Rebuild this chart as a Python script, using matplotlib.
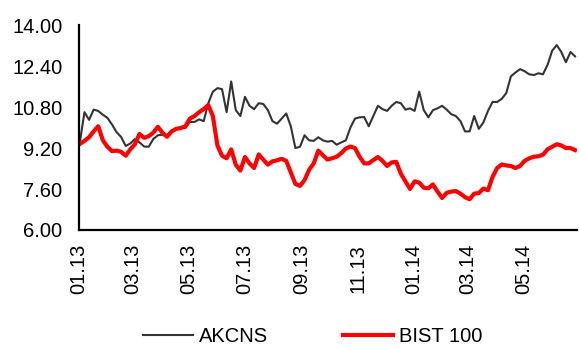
import numpy as np
import pandas as pd
import matplotlib
matplotlib.use("Agg")
import matplotlib.pyplot as plt
import matplotlib.dates as mdates
from matplotlib.ticker import FormatStrFormatter

plt.rcParams['font.family'] = ['Liberation Sans', 'DejaVu Sans']

# price series sampled every 5 calendar days from early Jan 2013
dates = pd.date_range('2013-01-02', periods=109, freq='5D')

akcns = [
    9.44, 10.60, 10.30, 10.70, 10.65, 10.50, 10.38, 10.12, 9.82, 9.63,
    9.28, 9.38, 9.55, 9.42, 9.26, 9.25, 9.55, 9.70, 9.72, 9.66,
    9.84, 9.93, 10.03, 9.98, 10.22, 10.22, 10.32, 10.25, 10.95, 11.40,
    11.54, 11.50, 10.60, 11.80, 10.68, 10.45, 11.20, 10.85, 10.72, 10.95,
    10.92, 10.68, 10.25, 10.15, 10.35, 10.55, 10.05, 9.20, 9.25, 9.70,
    9.50, 9.48, 9.62, 9.50, 9.45, 9.48, 9.33, 9.42, 9.50, 10.00,
    10.35, 10.40, 10.41, 10.05, 10.45, 10.85, 10.72, 10.65, 10.85, 11.00,
    10.95, 10.70, 10.75, 10.65, 11.40, 10.68, 10.40, 10.68, 10.75, 10.85,
    10.70, 10.52, 10.45, 10.25, 9.85, 9.85, 10.45, 9.95, 10.20, 10.65,
    11.00, 11.00, 11.12, 11.35, 12.00, 12.15, 12.28, 12.20, 12.08, 12.05,
    12.12, 12.08, 12.45, 13.00, 13.22, 12.95, 12.55, 12.95, 12.78,
]

bist100 = [
    9.36, 9.48, 9.62, 9.85, 10.05, 9.51, 9.25, 9.08, 9.10, 9.05,
    8.90, 9.15, 9.35, 9.75, 9.60, 9.66, 9.80, 10.03, 9.80, 9.64,
    9.85, 9.95, 9.98, 10.05, 10.35, 10.45, 10.60, 10.72, 10.88, 10.45,
    9.30, 8.90, 8.80, 9.15, 8.55, 8.32, 8.85, 8.60, 8.42, 8.95,
    8.75, 8.55, 8.68, 8.72, 8.78, 8.70, 8.25, 7.80, 7.72, 7.95,
    8.35, 8.60, 9.10, 8.92, 8.75, 8.80, 8.86, 9.00, 9.18, 9.26,
    9.20, 8.86, 8.60, 8.60, 8.73, 8.85, 8.70, 8.50, 8.64, 8.66,
    8.20, 7.90, 7.60, 7.90, 7.85, 7.65, 7.63, 7.78, 7.50, 7.25,
    7.45, 7.50, 7.52, 7.42, 7.28, 7.20, 7.42, 7.44, 7.62, 7.55,
    8.07, 8.42, 8.56, 8.52, 8.50, 8.42, 8.50, 8.70, 8.80, 8.86,
    8.88, 8.94, 9.15, 9.25, 9.35, 9.30, 9.20, 9.20, 9.12,
]

yticks = [6.00, 7.60, 9.20, 10.80, 12.40, 14.00]
xticks = pd.to_datetime(['2013-01-01', '2013-03-01', '2013-05-01', '2013-07-01',
                         '2013-09-01', '2013-11-01', '2014-01-01', '2014-03-01',
                         '2014-05-01'])

fig = plt.figure(figsize=(5.79, 3.49), dpi=100)
ax = fig.add_axes([0.1364, 0.341, 0.86, 0.587])

ax.plot(dates, akcns, color='#333333', lw=1.5, label='AKCNS')
ax.plot(dates, bist100, color='#ff0000', lw=3.0, label='BIST 100')

ax.set_ylim(6, 14)
ax.set_yticks(yticks)
ax.yaxis.set_major_formatter(FormatStrFormatter('%.2f'))
ax.set_xlim(pd.Timestamp('2013-01-01'), pd.Timestamp('2014-06-28'))
ax.set_xticks(xticks)
ax.xaxis.set_major_formatter(mdates.DateFormatter('%m.%y'))

ax.tick_params(axis='y', length=0, pad=12, labelsize=14.5)
ax.tick_params(axis='x', length=0, pad=10, labelsize=14.5, labelrotation=90)

for side in ['top', 'right']:
    ax.spines[side].set_visible(False)
for side in ['left', 'bottom']:
    ax.spines[side].set_linewidth(1.6)
    ax.spines[side].set_color('black')

fig.legend(loc='center', bbox_to_anchor=(0.54, 0.035), ncol=2, frameon=False,
           fontsize=14.5, handlelength=2.5, handletextpad=0.3, columnspacing=3.7)

fig.savefig('out.png', dpi=100)
